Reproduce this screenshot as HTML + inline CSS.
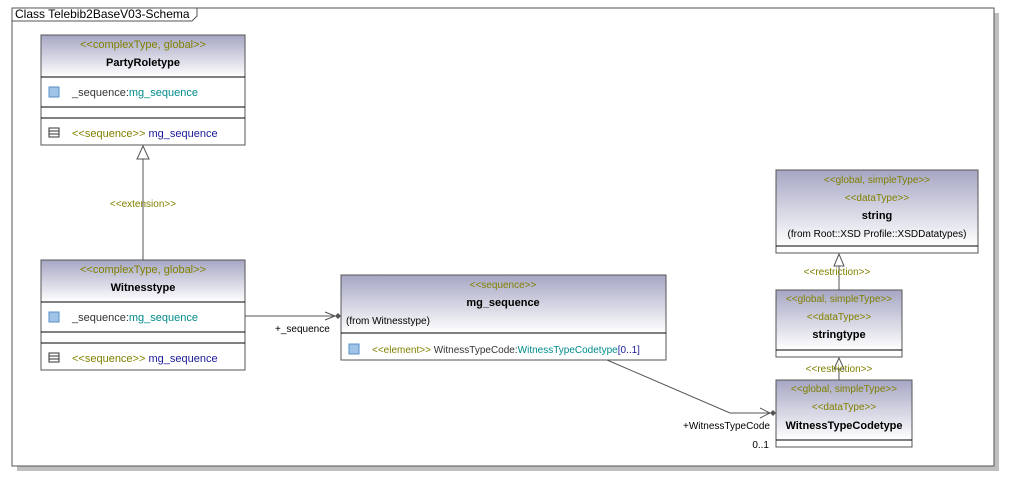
<!DOCTYPE html>
<html><head><meta charset="utf-8"><style>
body{margin:0;background:#fff;width:1019px;height:488px;overflow:hidden}
svg text{font-family:"Liberation Sans",sans-serif;font-size:11px}
.st{fill:#808000}
.nm{font-weight:bold;fill:#000}
.cy{fill:#008b8b}
.bl{fill:#1a1a9a}
</style></head><body>
<svg width="1019" height="488" xmlns="http://www.w3.org/2000/svg">
<defs>
<linearGradient id="g" x1="0" y1="0" x2="0" y2="1">
<stop offset="0" stop-color="#a6a6c4"/><stop offset="1" stop-color="#ffffff"/>
</linearGradient>
</defs>
<!-- frame -->
<rect x="17" y="13" width="982" height="458" fill="#c0c0c0"/>
<rect x="12" y="8" width="982" height="458" fill="#fff" stroke="#555"/>
<path d="M12 21 H192 L197 16 V8" fill="none" stroke="#555"/>
<text x="15" y="18" style="font-size:12px" fill="#000">Class Telebib2BaseV03-Schema</text>

<!-- PartyRoletype -->
<rect x="41" y="35" width="204" height="42" fill="url(#g)"/>
<rect x="41" y="35" width="204" height="110" fill="none" stroke="#555"/>
<line x1="41" y1="77" x2="245" y2="77" stroke="#000"/>
<line x1="41" y1="107" x2="245" y2="107" stroke="#000"/>
<line x1="41" y1="118" x2="245" y2="118" stroke="#000"/>
<text x="143" y="48" text-anchor="middle" class="st">&lt;&lt;complexType, global&gt;&gt;</text>
<text x="143" y="66" text-anchor="middle" class="nm">PartyRoletype</text>
<rect x="49" y="87" width="10" height="10" fill="#9fc4e8" stroke="#5a8fc8"/>
<text x="72" y="96" fill="#333">_sequence:<tspan class="cy">mg_sequence</tspan></text>
<rect x="49" y="128" width="10" height="9" fill="none" stroke="#333"/><line x1="49" y1="131" x2="59" y2="131" stroke="#333"/><line x1="49" y1="134" x2="59" y2="134" stroke="#333"/>
<text x="72" y="137" class="st">&lt;&lt;sequence&gt;&gt; <tspan class="bl">mg_sequence</tspan></text>

<!-- extension -->
<line x1="143" y1="260" x2="143" y2="159" stroke="#555"/>
<path d="M137 159 L143 146 L149 159 Z" fill="#fff" stroke="#555"/>
<text x="143" y="207" text-anchor="middle" class="st" style="font-size:10px">&lt;&lt;extension&gt;&gt;</text>

<!-- Witnesstype -->
<rect x="41" y="260" width="204" height="42" fill="url(#g)"/>
<rect x="41" y="260" width="204" height="110" fill="none" stroke="#555"/>
<line x1="41" y1="302" x2="245" y2="302" stroke="#000"/>
<line x1="41" y1="332" x2="245" y2="332" stroke="#000"/>
<line x1="41" y1="343" x2="245" y2="343" stroke="#000"/>
<text x="143" y="273" text-anchor="middle" class="st">&lt;&lt;complexType, global&gt;&gt;</text>
<text x="143" y="291" text-anchor="middle" class="nm">Witnesstype</text>
<rect x="49" y="312" width="10" height="10" fill="#9fc4e8" stroke="#5a8fc8"/>
<text x="72" y="321" fill="#333">_sequence:<tspan class="cy">mg_sequence</tspan></text>
<rect x="49" y="353" width="10" height="9" fill="none" stroke="#333"/><line x1="49" y1="356" x2="59" y2="356" stroke="#333"/><line x1="49" y1="359" x2="59" y2="359" stroke="#333"/>
<text x="72" y="362" class="st">&lt;&lt;sequence&gt;&gt; <tspan class="bl">mg_sequence</tspan></text>

<!-- association -->
<line x1="245" y1="316" x2="335" y2="316" stroke="#555"/>
<path d="M325 312 L335 316 L325 320" fill="none" stroke="#555"/>
<path d="M335 316 L338 313 L341 316 L338 319 Z" fill="#555"/>
<text x="275" y="332" fill="#000" style="font-size:10px">+_sequence</text>

<!-- mg_sequence -->
<rect x="341" y="275" width="325" height="58" fill="url(#g)"/>
<rect x="341" y="275" width="325" height="85" fill="none" stroke="#555"/>
<line x1="341" y1="333" x2="666" y2="333" stroke="#000"/>
<text x="503" y="288" text-anchor="middle" class="st" style="font-size:10px">&lt;&lt;sequence&gt;&gt;</text>
<text x="503" y="306" text-anchor="middle" class="nm">mg_sequence</text>
<text x="346" y="324" fill="#000" style="font-size:10px">(from Witnesstype)</text>
<rect x="349" y="344" width="10" height="10" fill="#9fc4e8" stroke="#5a8fc8"/>
<text x="372" y="353" style="font-size:10px" class="st">&lt;&lt;element&gt;&gt; <tspan fill="#333">WitnessTypeCode:</tspan><tspan class="cy">WitnessTypeCodetype</tspan><tspan class="bl">[0..1]</tspan></text>

<!-- association 2 -->
<polyline points="607,360 730,413 770,413" fill="none" stroke="#555"/>
<path d="M760 408 L770 413 L760 418" fill="none" stroke="#555"/>
<path d="M770 413 L773 410 L776 413 L773 416 Z" fill="#555"/>
<text x="770" y="429" text-anchor="end" fill="#000" style="font-size:10px">+WitnessTypeCode</text>
<text x="769" y="448" text-anchor="end" fill="#000" style="font-size:10px">0..1</text>

<!-- string -->
<rect x="776" y="170" width="202" height="76" fill="url(#g)"/>
<rect x="776" y="170" width="202" height="83" fill="none" stroke="#555"/>
<line x1="776" y1="246" x2="978" y2="246" stroke="#000"/>
<text x="877" y="183" text-anchor="middle" class="st" style="font-size:10px">&lt;&lt;global, simpleType&gt;&gt;</text>
<text x="877" y="201" text-anchor="middle" class="st" style="font-size:10px">&lt;&lt;dataType&gt;&gt;</text>
<text x="877" y="219" text-anchor="middle" class="nm">string</text>
<text x="877" y="237" text-anchor="middle" fill="#000" style="font-size:10px">(from Root::XSD Profile::XSDDatatypes)</text>

<line x1="839" y1="290" x2="839" y2="266" stroke="#555"/>
<path d="M834 266 L839 254 L844 266 Z" fill="#fff" stroke="#555"/>
<text x="837" y="275" text-anchor="middle" class="st" style="font-size:10px">&lt;&lt;restriction&gt;&gt;</text>

<!-- stringtype -->
<rect x="776" y="290" width="126" height="60" fill="url(#g)"/>
<rect x="776" y="290" width="126" height="67" fill="none" stroke="#555"/>
<line x1="776" y1="350" x2="902" y2="350" stroke="#000"/>
<text x="839" y="302" text-anchor="middle" class="st" style="font-size:10px">&lt;&lt;global, simpleType&gt;&gt;</text>
<text x="839" y="320" text-anchor="middle" class="st" style="font-size:10px">&lt;&lt;dataType&gt;&gt;</text>
<text x="839" y="338" text-anchor="middle" class="nm">stringtype</text>

<line x1="839" y1="380" x2="839" y2="369" stroke="#555"/>
<path d="M834 369 L839 358 L844 369 Z" fill="#fff" stroke="#555"/>
<text x="839" y="372" text-anchor="middle" class="st" style="font-size:10px">&lt;&lt;restriction&gt;&gt;</text>

<!-- WitnessTypeCodetype -->
<rect x="776" y="380" width="136" height="60" fill="url(#g)"/>
<rect x="776" y="380" width="136" height="67" fill="none" stroke="#555"/>
<line x1="776" y1="440" x2="912" y2="440" stroke="#000"/>
<text x="844" y="392" text-anchor="middle" class="st" style="font-size:10px">&lt;&lt;global, simpleType&gt;&gt;</text>
<text x="844" y="410" text-anchor="middle" class="st" style="font-size:10px">&lt;&lt;dataType&gt;&gt;</text>
<text x="844" y="429" text-anchor="middle" class="nm">WitnessTypeCodetype</text>
</svg>
</body></html>
